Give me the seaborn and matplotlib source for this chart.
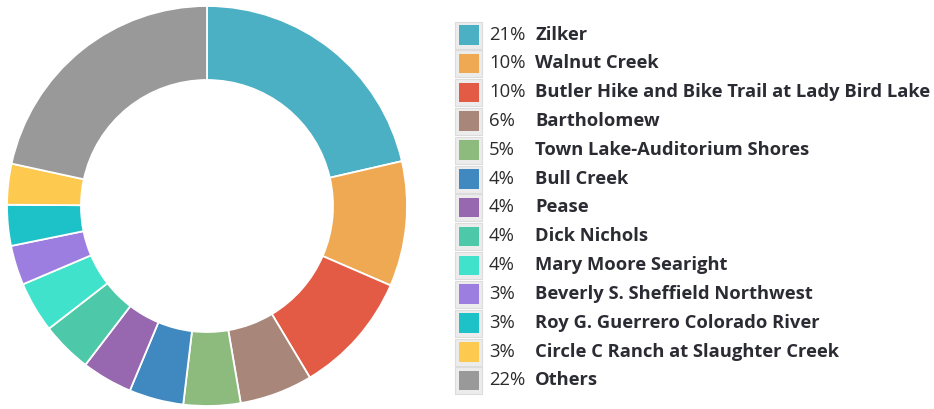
import matplotlib
matplotlib.use("Agg")
import matplotlib.pyplot as plt
from matplotlib.patches import Rectangle
import seaborn as sns

# Park usage shares (percent of visits)
parks = [
    "Zilker", "Walnut Creek", "Butler Hike and Bike Trail at Lady Bird Lake",
    "Bartholomew", "Town Lake-Auditorium Shores", "Bull Creek", "Pease",
    "Dick Nichols", "Mary Moore Searight", "Beverly S. Sheffield Northwest",
    "Roy G. Guerrero Colorado River", "Circle C Ranch at Slaughter Creek", "Others",
]
shares = [21.4, 10.1, 9.9, 5.9, 4.6, 4.4, 4.1, 4.1, 4.1, 3.2, 3.3, 3.3, 21.6]
colors = [
    "#4BB0C4", "#EFA953", "#E35B45", "#A8877A", "#8DBB7E", "#3F88C0", "#9767B0",
    "#4DC8A8", "#40E2CC", "#9C7EE0", "#1CC2C8", "#FDC94F", "#999999",
]

sns.set_theme(style="white")
plt.rcParams["font.family"] = ["Open Sans", "DejaVu Sans"]
palette = sns.color_palette(colors)

W, H = 934, 409
fig = plt.figure(figsize=(W / 100, H / 100), dpi=100)

# Donut
R = 200
cx, cy = 207, 206
ax = fig.add_axes([(cx - R) / W, (H - cy - R) / H, 2 * R / W, 2 * R / H])
ax.pie(
    shares, colors=palette, startangle=90, counterclock=False, radius=1.0,
    wedgeprops=dict(width=0.37, edgecolor="white", linewidth=1.3),
)
ax.set_xlim(-1, 1)
ax.set_ylim(-1, 1)
ax.set_aspect("equal")
ax.axis("off")

# Legend drawn in pixel space
lg = fig.add_axes([0, 0, 1, 1])
lg.set_xlim(0, W)
lg.set_ylim(H, 0)
lg.axis("off")

y0, step = 34.5, 28.83
for i, (name, val, col) in enumerate(zip(parks, shares, palette)):
    y = y0 + i * step
    lg.add_patch(Rectangle((455, y - 13), 27, 27, facecolor="#ececec",
                           edgecolor="#dcdcdc", linewidth=0.8))
    lg.add_patch(Rectangle((459, y - 9.5), 19.5, 19.5, facecolor=col, edgecolor="none"))
    lg.text(489, y, f"{val:.0f}%", fontsize=13.3, color="#2b2b2b",
            va="center", ha="left")
    lg.text(535, y, name, fontsize=13.25, fontweight="bold", color="#2b2b33",
            va="center", ha="left")

fig.savefig("out.png", dpi=100)
